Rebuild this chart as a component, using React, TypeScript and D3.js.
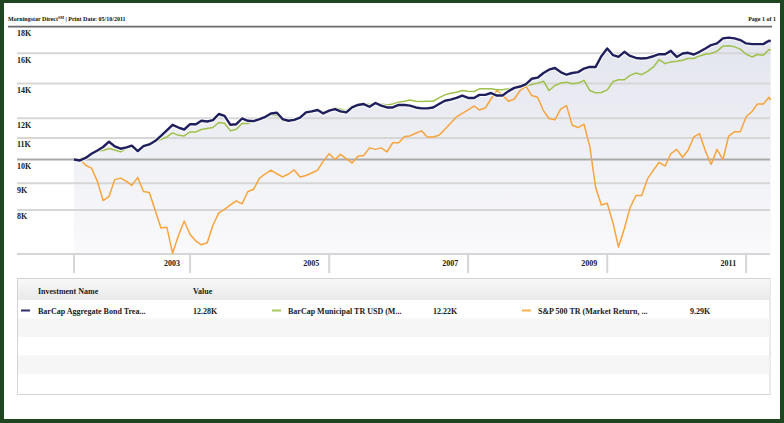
import React from "react";
import * as d3 from "d3";

// ---- Data (values in thousands, growth of 10K, monthly Apr 2001 - Apr 2011 + partial May 2011) ----
const startMonth = new Date(2001, 4, 1);
const monthCount = 121;
const lastPartialDate = new Date(2011, 4, 10);

const bondValues = [
  10.0, 9.96, 10.07, 10.26, 10.41, 10.57, 10.82, 10.6, 10.49, 10.55,
  10.63, 10.38, 10.61, 10.69, 10.85, 11.1, 11.38, 11.66, 11.52, 11.42,
  11.69, 11.69, 11.87, 11.83, 11.9, 12.23, 12.13, 11.66, 11.69, 11.99,
  11.87, 11.85, 11.96, 12.08, 12.26, 12.3, 11.96, 11.87, 11.92, 12.04,
  12.32, 12.37, 12.45, 12.26, 12.41, 12.5, 12.37, 12.32, 12.59, 12.73,
  12.78, 12.63, 12.84, 12.69, 12.59, 12.59, 12.73, 12.73, 12.69, 12.59,
  12.54, 12.54, 12.59, 12.78, 12.97, 13.03, 13.13, 13.27, 13.13, 13.13,
  13.31, 13.31, 13.42, 13.27, 13.27, 13.53, 13.73, 13.81, 13.96, 14.29,
  14.36, 14.66, 14.88, 14.99, 14.72, 14.55, 14.66, 14.72, 14.95, 15.06,
  15.06, 15.79, 16.34, 15.86, 15.74, 16.1, 15.81, 15.67, 15.63, 15.67,
  15.79, 15.93, 15.93, 16.17, 15.74, 15.98, 16.03, 15.91, 16.1, 16.34,
  16.59, 16.71, 17.09, 17.14, 17.09, 16.96, 16.71, 16.66, 16.66, 16.66,
  16.91, 16.88,
];

const muniValues = [
  10.0, 10.04, 10.1, 10.26, 10.38, 10.41, 10.5, 10.43, 10.35, 10.5,
  10.61, 10.41, 10.64, 10.72, 10.82, 10.93, 11.05, 11.25, 11.13, 11.1,
  11.3, 11.3, 11.42, 11.47, 11.52, 11.78, 11.74, 11.35, 11.43, 11.73,
  11.73, 11.87, 11.94, 12.04, 12.19, 12.15, 11.87, 11.87, 11.94, 12.04,
  12.26, 12.32, 12.45, 12.32, 12.45, 12.56, 12.5, 12.41, 12.63, 12.75,
  12.82, 12.75, 12.82, 12.78, 12.73, 12.78, 12.88, 12.94, 13.01, 12.94,
  12.92, 12.94, 12.94, 13.13, 13.31, 13.41, 13.47, 13.57, 13.53, 13.51,
  13.67, 13.67, 13.67, 13.61, 13.61, 13.67, 13.73, 13.77, 13.87, 13.93,
  14.02, 14.14, 13.57, 13.87, 14.02, 14.08, 13.98, 14.02, 14.19, 13.57,
  13.43, 13.45, 13.61, 14.12, 14.23, 14.23, 14.51, 14.66, 14.55, 14.77,
  15.06, 15.56, 15.28, 15.4, 15.44, 15.51, 15.63, 15.63, 15.81, 15.93,
  15.98, 16.15, 16.51, 16.54, 16.46, 16.29, 15.93, 15.74, 15.91, 15.86,
  16.27, 16.22,
];

const spValues = [
  10.0, 10.02, 9.75, 9.63, 9.08, 8.34, 8.49, 9.15, 9.21, 9.08,
  8.92, 9.24, 8.68, 8.64, 8.0, 7.39, 7.41, 6.61, 7.15, 7.62,
  7.18, 6.97, 6.86, 6.92, 7.48, 7.9, 8.02, 8.18, 8.33, 8.22,
  8.68, 8.77, 9.21, 9.39, 9.54, 9.39, 9.26, 9.38, 9.55, 9.26,
  9.32, 9.42, 9.54, 9.93, 10.26, 10.0, 10.23, 10.04, 9.85, 10.15,
  10.18, 10.53, 10.46, 10.53, 10.35, 10.77, 10.77, 11.07, 11.1, 11.23,
  11.35, 11.05, 11.05, 11.13, 11.43, 11.74, 12.08, 12.26, 12.45, 12.67,
  12.45, 12.56, 13.07, 13.57, 13.31, 12.94, 13.07, 13.57, 13.83, 13.27,
  13.17, 12.41, 11.99, 11.92, 12.5, 12.69, 11.64, 11.52, 11.69, 10.61,
  8.84, 8.18, 8.24, 7.54, 6.79, 7.37, 8.08, 8.53, 8.53, 9.19,
  9.54, 9.88, 9.71, 10.26, 10.46, 10.1, 10.41, 11.05, 11.21, 10.38,
  9.78, 10.46, 10.0, 11.09, 11.31, 11.31, 12.08, 12.37, 12.78, 12.78,
  13.17, 13.01,
];

const yTickValues = [8, 9, 10, 11, 12, 14, 16, 18];
const yTickLabels = ["8K", "9K", "10K", "11K", "12K", "14K", "16K", "18K"];
const xTickYears = [2003, 2005, 2007, 2009, 2011];
const xTickLabels = ["2003", "2005", "2007", "2009", "2011"];

const seriesNames = [
  "BarCap Aggregate Bond Trea...",
  "BarCap Municipal TR USD (M...",
  "S&P 500 TR (Market Return, ...",
];
const seriesLegendValues = ["12.28K", "12.22K", "9.29K"];
const seriesColors = ["#1f1f5e", "#9fc04a", "#f7a43c"];
const legendColors = ["#2d2d6e", "#a9c95e", "#f9b14f"];

const headerLeft = "Morningstar Direct";
const headerSup = "SM";
const headerRest = " | Print Date: 05/10/2011";
const headerRight = "Page 1 of 1";
const legendHeaders = ["Investment Name", "Value"];

const FONT = "'Liberation Serif', 'Times New Roman', serif";

export default function App() {
  const W = 784;
  const H = 423;
  const dates = [
    ...d3.range(monthCount).map((i) => d3.timeMonth.offset(startMonth, i)),
    lastPartialDate,
  ];

  const plotLeft = 17;
  const plotRight = 770;
  const plotBottom = 254;

  const x = d3
    .scaleTime()
    .domain([dates[0], dates[monthCount - 1]])
    .range([74, 769]);
  const y = d3.scaleLog().domain([8, 18]).range([210, 26.6]);

  const lineGen = d3
    .line<number>()
    .x((_, i) => x(dates[i]))
    .y((v) => y(v));
  const areaGen = d3
    .area<number>()
    .x((_, i) => x(dates[i]))
    .y0(plotBottom)
    .y1((v) => y(v));

  const series = [bondValues, muniValues, spValues];
  const xStart = x(dates[0]);

  const rowTops = [300, 318.5, 337, 355.5, 374];
  const rowH = 18.5;

  return (
    <svg
      width={W}
      height={H}
      style={{ position: "fixed", left: 0, top: 0, display: "block" }}
      fontFamily={FONT}
    >
      <defs>
        <linearGradient id="areaGrad" x1="0" y1="0" x2="0" y2="1">
          <stop offset="0%" stopColor="#e3e5ee" />
          <stop offset="100%" stopColor="#fafafc" />
        </linearGradient>
        <linearGradient id="headGrad" x1="0" y1="0" x2="0" y2="1">
          <stop offset="0%" stopColor="#f8f8f8" />
          <stop offset="100%" stopColor="#e9e9e9" />
        </linearGradient>
      </defs>

      {/* frame */}
      <rect x={0} y={0} width={W} height={H} fill="#1d4621" />
      <rect x={4} y={3} width={776} height={416} fill="#ffffff" />

      {/* header */}
      <text x={8} y={21} fontSize={6} fontWeight="bold" fill="#111">
        {headerLeft}
        <tspan fontSize={4} dy={-2.5}>
          {headerSup}
        </tspan>
        <tspan dy={2.5}>{headerRest}</tspan>
      </text>
      <text x={776} y={21} fontSize={6} fontWeight="bold" fill="#111" textAnchor="end">
        {headerRight}
      </text>

      {/* shaded area under first series */}
      <path d={areaGen(bondValues) || ""} fill="url(#areaGrad)" />

      {/* gridlines */}
      {yTickValues.map((v) =>
        v === 18 ? null : (
          <line
            key={v}
            x1={plotLeft}
            x2={plotRight}
            y1={y(v)}
            y2={y(v)}
            stroke={v === 10 ? "#a9a9a9" : "#d6d6d6"}
            strokeWidth={2}
          />
        )
      )}
      {/* header rule (coincides with 18K) */}
      <line x1={8} x2={772} y1={y(18)} y2={y(18)} stroke="#6a6a6a" strokeWidth={1.6} />

      {/* y labels */}
      {yTickValues.map((v, i) => (
        <text key={v} x={plotLeft} y={y(v) + 9.3} fontSize={8} fontWeight="bold" fill="#1a1a1a">
          {yTickLabels[i]}
        </text>
      ))}

      {/* x axis band */}
      <line x1={plotLeft} x2={plotRight} y1={plotBottom} y2={plotBottom} stroke="#d6d6d6" strokeWidth={2} />
      <line x1={xStart} x2={xStart} y1={plotBottom} y2={273} stroke="#d6d6d6" strokeWidth={2} />
      {xTickYears.map((yr, i) => {
        const sx = x(new Date(yr, 0, 1));
        return (
          <g key={yr}>
            <line x1={sx} x2={sx} y1={plotBottom} y2={273} stroke="#d6d6d6" strokeWidth={2} />
            <text x={sx - 10} y={266} fontSize={8} fontWeight="bold" fill="#1a1a1a" textAnchor="end">
              {xTickLabels[i]}
            </text>
          </g>
        );
      })}

      {/* lines */}
      <path d={lineGen(spValues) || ""} fill="none" stroke={seriesColors[2]} strokeWidth={1.5} strokeLinejoin="round" />
      <path d={lineGen(muniValues) || ""} fill="none" stroke={seriesColors[1]} strokeWidth={1.5} strokeLinejoin="round" />
      <path d={lineGen(bondValues) || ""} fill="none" stroke="#ffffff" strokeWidth={4.5} strokeOpacity={0.8} strokeLinejoin="round" />
      <path d={lineGen(bondValues) || ""} fill="none" stroke={seriesColors[0]} strokeWidth={2.4} strokeLinejoin="round" />

      {/* legend table */}
      <rect x={17.5} y={278.5} width={752.5} height={116} fill="#ffffff" stroke="#d4d4d4" strokeWidth={1} />
      <rect x={18} y={279} width={751.5} height={21} fill="url(#headGrad)" />
      {rowTops.map((t, i) =>
        i % 2 === 1 ? (
          <rect key={t} x={18} y={t} width={751.5} height={rowH} fill="#f6f6f6" />
        ) : null
      )}
      <text x={38} y={293.5} fontSize={8} fontWeight="bold" fill="#1a1a1a">
        {legendHeaders[0]}
      </text>
      <text x={193} y={293.5} fontSize={8} fontWeight="bold" fill="#1a1a1a">
        {legendHeaders[1]}
      </text>
      {series.map((_, i) => {
        const bx = [21, 272, 522][i];
        const nx = [38, 288, 538][i];
        const vx = [193, 433, 690][i];
        return (
          <g key={i}>
            <line x1={bx} x2={bx + 9} y1={310.5} y2={310.5} stroke={legendColors[i]} strokeWidth={2} />
            <text x={nx} y={313.5} fontSize={8} fontWeight="bold" fill="#1a1a1a">
              {seriesNames[i]}
            </text>
            <text x={vx} y={313.5} fontSize={8} fontWeight="bold" fill="#1a1a1a">
              {seriesLegendValues[i]}
            </text>
          </g>
        );
      })}
    </svg>
  );
}
